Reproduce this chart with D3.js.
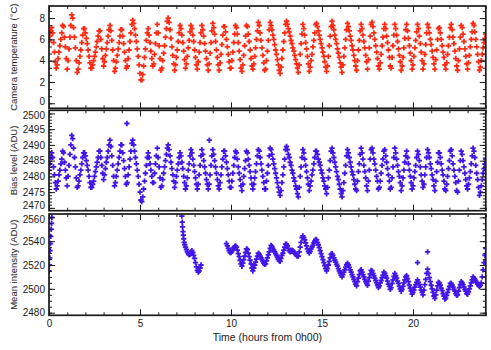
<!DOCTYPE html>
<html>
<head>
<meta charset="utf-8">
<script src="https://cdn.jsdelivr.net/npm/d3@7"></script>
<style>
  body { margin: 0; background: #fff; }
  svg { display: block; }
  text { font-family: "Liberation Sans", Arial, sans-serif; fill: #1a1a1a; }
</style>
</head>
<body>
<div id="chart"></div>
<script>
// Samples are every 3 minutes (0.05 h)
const sampleStep = 0.05;

// Camera temperature (deg C), one row per hour, from 0h00
const temperature = [
  5.8,6.3,6.8,7.1,6.6,5.7,4.8,3.9,3.3,3.6,4.2,4.8,5.4,6.0,6.6,7.3,7.2,6.2,5.3,4.2,
  3.2,4.0,5.1,6.2,7.3,8.3,8.0,7.1,6.2,5.2,4.0,2.9,3.2,3.8,4.4,5.0,5.7,6.4,7.0,7.0,
  6.6,6.1,5.6,5.0,4.4,3.8,3.3,3.3,3.6,4.0,4.4,4.8,5.3,5.8,6.3,6.8,6.8,6.0,5.1,4.2,
  3.5,3.9,4.5,5.1,5.7,6.3,6.9,7.3,6.8,5.9,5.0,4.0,3.0,3.3,3.9,4.5,5.1,5.7,6.3,6.9,
  6.9,6.3,5.6,4.8,4.0,3.3,3.5,4.2,5.0,5.8,6.6,7.4,7.8,7.5,7.0,6.4,5.8,5.1,4.4,3.6,
  2.8,2.2,2.2,2.7,3.5,4.3,5.1,5.9,6.6,7.0,6.4,5.7,4.9,4.2,3.5,3.7,4.6,5.6,6.6,7.4,
  6.6,5.4,4.2,3.1,3.3,4.0,4.7,5.4,6.2,7.0,7.7,8.0,7.6,6.9,6.1,5.3,4.5,3.7,3.1,3.6,
  4.3,5.0,5.8,6.6,7.3,7.0,6.4,5.7,4.9,4.1,3.3,3.7,4.4,5.2,5.9,6.7,7.3,7.0,6.4,5.8,
  5.0,4.3,3.6,3.2,3.9,4.8,5.7,6.6,7.3,6.9,6.3,5.6,4.9,4.2,3.6,3.1,3.7,4.7,5.7,6.8,
  7.5,7.1,6.5,5.8,5.0,4.3,3.6,3.1,3.8,4.6,5.5,6.4,7.2,7.2,6.7,6.0,5.3,4.6,3.9,3.3,
  3.3,4.0,4.8,5.7,6.5,7.3,7.1,6.5,5.7,4.9,4.1,3.3,3.0,3.6,4.5,5.4,6.3,7.3,7.2,6.5,
  5.8,5.0,4.2,3.5,3.2,3.7,4.4,5.2,6.0,6.8,7.6,7.3,6.6,5.9,5.2,4.5,3.8,3.1,3.2,4.0,
  4.9,5.9,6.9,7.6,7.3,6.9,6.4,6.0,5.5,5.0,4.6,4.1,3.6,3.1,2.8,3.4,4.2,5.0,5.8,6.6,
  7.4,7.7,7.4,7.0,6.7,6.3,5.9,5.6,5.2,4.9,4.5,4.1,3.7,3.3,2.9,3.6,4.6,5.6,6.5,7.4,
  7.0,6.4,5.7,5.1,4.4,3.7,3.0,3.4,4.0,4.6,5.3,5.9,6.6,7.4,7.5,7.2,6.8,6.4,6.0,5.6,
  5.2,4.8,4.4,3.9,3.4,3.0,3.5,4.4,5.4,6.3,7.2,7.7,7.3,6.9,6.4,6.0,5.6,5.1,4.7,4.3,
  3.8,3.4,2.9,3.6,4.4,5.2,6.0,6.9,7.5,7.2,6.8,6.3,5.9,5.4,5.0,4.5,4.0,3.5,3.1,4.0,
  5.0,5.9,6.8,7.4,7.0,6.4,5.8,5.2,4.5,3.9,3.2,4.1,5.2,6.3,7.4,7.6,7.2,6.6,6.0,5.4,
  4.8,4.2,3.5,3.2,3.8,4.6,5.4,6.2,7.0,7.4,7.0,6.3,5.7,5.0,4.3,3.5,3.3,4.3,5.4,6.4,
  7.4,7.0,6.4,5.8,5.1,4.5,3.9,3.1,3.5,4.3,5.2,6.1,6.9,7.4,6.8,6.1,5.4,4.7,4.0,3.2,
  3.6,4.4,5.2,5.9,6.7,7.4,7.0,6.3,5.6,4.8,4.0,3.2,3.7,4.6,5.5,6.6,7.4,7.1,6.6,6.0,
  5.5,4.9,4.3,3.7,3.2,4.1,5.0,6.0,7.0,7.1,6.6,6.0,5.4,4.8,4.3,3.6,3.2,3.8,4.6,5.4,
  6.2,7.1,7.4,6.9,6.2,5.6,4.9,4.2,3.5,3.1,4.0,5.1,6.2,7.3,7.1,6.5,5.8,5.1,4.4,3.7,
  3.2,3.8,4.5,5.3,6.0,6.7,7.5,7.3,6.7,6.0,5.3,4.6,3.9,3.1,3.4,4.0,4.6,5.2,5.7,6.1,
  6.5
];

// Bias level (ADU), same sampling
const biasLevel = [
  2482,2484,2486,2487.5,2486,2483,2480.5,2478,2476,2477,2478.5,2480.5,2482,2484,2485.5,2488,2487.5,2484.5,2482,2479.5,
  2477,2480,2483.5,2487,2490,2493,2492,2489,2486,2483,2479.5,2476.5,2477,2478.5,2480.5,2482,2484,2486,2487.5,2487.5,
  2486.5,2485,2483.5,2482,2480,2478,2476.5,2476.5,2477.5,2478.5,2480,2481.5,2483,2484.5,2486,2488,2488,2486,2483.5,2481,
  2479,2480.5,2482.5,2484.5,2486,2488,2490,2491.5,2489.5,2486.5,2483.5,2480,2477,2478,2480,2482,2484,2486,2488,2490,
  2490,2487.5,2485,2482.5,2480,2477.5,2478,2480.5,2483,2485.5,2488,2490.5,2491.5,2490,2488,2486,2484,2482,2480,2477.5,
  2475,2472.5,2472,2473.5,2476,2478.5,2481,2483.5,2486,2487.5,2486,2484,2482,2480,2478,2478,2481,2484,2486.5,2489,
  2486,2483,2479.5,2476.5,2477,2479,2481,2483,2485,2487,2489,2490,2488.5,2486.5,2484.5,2482.5,2480.5,2478.5,2476.5,2478,
  2480,2482,2484,2486,2487.5,2486.5,2484.5,2482.5,2480,2478,2476,2477,2479.5,2482,2484,2486.5,2488.5,2487.5,2485.5,2483.5,
  2481.5,2479.5,2477.5,2476,2477.5,2480.5,2483.5,2486.5,2488.5,2487,2485,2483,2481,2479,2477.5,2476,2477.5,2480.5,2483.5,2486.5,
  2488.5,2487,2485,2483,2481,2479,2477,2476,2478,2480.5,2483,2485.5,2488,2488,2486.5,2484.5,2482.5,2480.5,2478.5,2476.5,
  2476.5,2478.5,2481,2483.5,2486,2488,2487.5,2485.5,2483,2481,2479,2477,2475.5,2477.5,2480,2482.5,2485,2488,2487.5,2485.5,
  2483.5,2481.5,2479.5,2477.5,2476,2477.5,2479.5,2481.5,2484,2486.5,2488.5,2488,2486,2484,2482,2480,2478,2476,2476,2478.5,
  2481,2483.5,2486.5,2489,2488.5,2487,2485.5,2484,2482.5,2481,2479.5,2478,2476.5,2475,2474,2475.5,2478,2480.5,2483,2485.5,
  2488.5,2489.5,2488.5,2487,2486,2484.5,2483.5,2482,2481,2479.5,2478.5,2477,2476,2474.5,2473.5,2476.5,2480,2483,2486,2488.5,
  2487.5,2485.5,2483.5,2481.5,2479.5,2477.5,2475.5,2477,2478.5,2480.5,2482,2484,2486,2488,2488,2487,2485.5,2484.5,2483.5,2482,
  2481,2479.5,2478.5,2477,2476,2474.5,2476.5,2479.5,2482,2485,2488,2489,2487.5,2486,2484.5,2483,2481.5,2480,2479,2477.5,
  2476,2474.5,2473.5,2475.5,2478,2481,2483.5,2486.5,2488.5,2487.5,2486,2484.5,2483,2481.5,2480.5,2479,2477.5,2476,2475.5,2478.5,
  2481.5,2484,2487,2489,2487.5,2485.5,2483.5,2481.5,2479.5,2477,2475.5,2478.5,2482,2485.5,2488.5,2489,2487.5,2485.5,2484,2482,
  2480,2478.5,2476,2476.5,2478.5,2481,2483.5,2485.5,2488,2488.5,2486.5,2484.5,2482.5,2480.5,2478.5,2476,2476.5,2479.5,2483,2486,
  2489,2487.5,2485.5,2483.5,2481.5,2480,2478,2475.5,2477,2479.5,2482,2484.5,2486.5,2488,2486,2484,2482,2480,2478,2476,
  2477,2479.5,2481.5,2483.5,2486,2488,2487,2485,2483,2480.5,2478.5,2476.5,2477.5,2480.5,2483,2486,2488.5,2487.5,2486,2484,
  2482.5,2480.5,2479,2477,2475.5,2478.5,2481.5,2484.5,2487.5,2487.5,2486,2484,2482,2480.5,2478.5,2476,2475.5,2477.5,2480,2482.5,
  2485,2488,2488.5,2486.5,2484,2482,2480,2478,2475.5,2475,2478.5,2482,2485,2488,2487,2485,2483,2481,2479,2477,
  2476,2477.5,2479.5,2481.5,2484,2486.5,2489,2488,2486,2483.5,2481,2479,2476.5,2474,2475,2477,2479,2481,2482.5,2484,
  2485.5
];
// isolated bias readings [hour, ADU]
const biasOutliers = [[4.28, 2496.8], [8.81, 2491.5]];

// Mean intensity (ADU): short pieces [hour, ADU] and a long run sampled every 0.05 h
const intensityMidnight = [
  [0.00,2515],[0.02,2520],[0.04,2526],[0.06,2532],[0.08,2538],[0.10,2544],[0.12,2550],[0.14,2555],[0.16,2560],[0.18,2565]
];
const intensityMorning = [
  [7.30,2561],[7.32,2556],[7.34,2552],[7.36,2548],[7.38,2545],[7.40,2542],[7.43,2539],[7.46,2537],[7.50,2535],
  [7.55,2533],[7.60,2531],[7.65,2529.5],[7.70,2528.5],[7.75,2529],[7.80,2531],[7.85,2532],[7.90,2530.5],[7.95,2528],
  [8.00,2525.5],[8.05,2522],[8.10,2518.5],[8.15,2515.5],[8.20,2514],[8.25,2515],[8.30,2517.5],[8.35,2520]
];
const intensityRunStart = 9.75;
const intensityRun = [
  2538,2536,2534,2532,2530.5,
  2530.5,2531.5,2533,2534.5,2535.5,2536,2535,2532.5,2529.5,2527,2524,2521,2519,2521.5,2524.5,2527.5,2530.5,2533.5,2533,2530,
  2527,2524,2521,2517.5,2515,2517.5,2520,2522.5,2525,2527.5,2530,2529,2527.5,2526,2524.5,2523,2521.5,2520.5,2521,2523.5,
  2526,2528.5,2531,2534,2536.5,2535.5,2534,2532.5,2531,2529.5,2528,2526.5,2525,2523.5,2523,2525.5,2528,2530,2532.5,2535,
  2537.5,2537.5,2536,2534,2532,2531,2531.5,2532.5,2532,2531,2530,2529,2528,2527.5,2527.5,2531,2535,2539,2543,2544.5,
  2543,2541,2538.5,2536,2533.5,2531.5,2530,2531.5,2533.5,2535,2536.5,2538.5,2540,2541.5,2541,2539,2537,2534.5,2532,2529.5,
  2527,2524.5,2522,2519.5,2517,2515,2517,2520,2523,2526,2529,2529.5,2528,2526,2524,2522.5,2520.5,2519,2517,2515,
  2513.5,2511.5,2510,2512,2514,2516,2518,2520,2521.5,2520,2518,2516,2514,2512,2510,2508,2506,2504,2502.5,2506,
  2509,2512,2515,2516,2514,2512,2510,2508,2506,2504.5,2503,2506.5,2509.5,2512.5,2515.5,2515,2513,2511,2509,2507,
  2505,2503,2501,2502.5,2505,2507,2509.5,2511.5,2514,2513,2511,2509,2506.5,2504,2502,2499.5,2501,2504.5,2507.5,2510.5,
  2513,2511,2509,2506.5,2504.5,2502,2500,2498,2499.5,2502,2505,2507.5,2510,2511,2508.5,2506,2503,2500.5,2498,2495.5,
  2497,2499,2501.5,2503.5,2505.5,2507.5,2505.5,2503.5,2501.5,2499,2497,2495,2499,2503.5,2508,2513,2516.5,2513,2509.5,2506,
  2503,2500,2497,2494,2492,2495,2499,2502.5,2505.5,2505,2503,2500.5,2498.5,2496,2494,2491.5,2492,2494.5,2497,2499.5,
  2502,2504.5,2504.5,2503,2501.5,2499.5,2498,2496,2494.5,2495,2498,2501,2503.5,2506,2505,2503.5,2501.5,2499.5,2498,2496,
  2495.5,2497.5,2500,2502.5,2505,2507.5,2510,2509,2508,2506.5,2505.5,2504,2503,2502,2503,2505,2510,2516,2522,2528,
  2534
];
const intensityOutliers = [[20.25, 2522], [20.80, 2531]];

const xMajor = [0, 5, 10, 15, 20];

// ---------------------------------------------------------------
const width = 491, height = 350;
const left = 49, right = 485.8;
const red = "#ff2a14", blue = "#4216e8";

const x = d3.scaleLinear().domain([0, 24]).range([left, right]);

// labelShift nudges tick labels that sit on a shared frame edge
const panels = [
  {
    title: "Camera temperature (\u00B0C)",
    top: 6, bottom: 108.3, domain: [-0.47, 9.13],
    major: [0, 2, 4, 6, 8], minor: d3.range(0, 9.13, 2 / 3),
    labelShift: { 0: "0.1em" },
    color: red,
    points: temperature.map((v, i) => [i * sampleStep, v])
  },
  {
    title: "Bias level (ADU)",
    top: 110.3, bottom: 210.7, domain: [2469.1, 2501],
    major: [2470, 2475, 2480, 2485, 2490, 2495, 2500], minor: d3.range(2470, 2501, 1),
    labelShift: { 2500: "0.55em", 2470: "0.1em" },
    color: blue,
    points: biasLevel.map((v, i) => [i * sampleStep, v]).concat(biasOutliers)
  },
  {
    title: "Mean intensity (ADU)",
    top: 214, bottom: 315.3, domain: [2477.8, 2562.8],
    major: [2480, 2500, 2520, 2540, 2560], minor: d3.range(2480, 2562.8, 5),
    labelShift: { 2560: "0.55em" },
    color: blue,
    points: intensityMidnight
      .concat(intensityMorning)
      .concat(intensityRun.map((v, i) => [intensityRunStart + i * sampleStep, v]))
      .concat(intensityOutliers)
  }
];

const svg = d3.select("#chart").append("svg")
  .attr("width", width)
  .attr("height", height);

const cross = d3.symbol(d3.symbolCross, 16)();

panels.forEach((p, k) => {
  const y = d3.scaleLinear().domain(p.domain).range([p.bottom, p.top]);
  const g = svg.append("g");

  // clip marks to the frame
  const clipId = "clip" + k;
  svg.append("clipPath").attr("id", clipId)
    .append("rect")
    .attr("x", left).attr("y", p.top)
    .attr("width", right - left).attr("height", p.bottom - p.top);

  g.append("g")
    .attr("clip-path", `url(#${clipId})`)
    .selectAll("path")
    .data(p.points)
    .join("path")
    .attr("d", cross)
    .attr("fill", p.color)
    .attr("transform", d => `translate(${x(d[0])},${y(d[1])})`);

  // ticks on all four sides, pointing inward
  const xMinor = d3.range(0, 25, 1);
  const addAxis = (axis, tx, ty) => {
    const a = g.append("g").attr("transform", `translate(${tx},${ty})`).call(axis);
    a.select(".domain").remove();
    a.selectAll("line").attr("stroke", "#1a1a1a").attr("stroke-width", 1);
    return a;
  };

  addAxis(d3.axisBottom(x).tickValues(xMinor).tickSize(-3).tickFormat(""), 0, p.bottom);
  addAxis(d3.axisTop(x).tickValues(xMinor).tickSize(-3).tickFormat(""), 0, p.top);
  addAxis(d3.axisTop(x).tickValues(xMajor).tickSize(-6).tickFormat(""), 0, p.top);
  const bottomMajor = addAxis(
    d3.axisBottom(x).tickValues(xMajor).tickSize(-6).tickPadding(5)
      .tickFormat(k === panels.length - 1 ? d3.format("d") : ""),
    0, p.bottom);
  bottomMajor.selectAll("text").attr("font-size", 10).attr("fill", "#1a1a1a");

  addAxis(d3.axisLeft(y).tickValues(p.minor).tickSize(-3).tickFormat(""), left, 0);
  addAxis(d3.axisRight(y).tickValues(p.minor).tickSize(-3).tickFormat(""), right, 0);
  addAxis(d3.axisRight(y).tickValues(p.major).tickSize(-6).tickFormat(""), right, 0);
  const leftMajor = addAxis(
    d3.axisLeft(y).tickValues(p.major).tickSize(-6).tickPadding(4).tickFormat(d3.format("d")),
    left, 0);
  leftMajor.selectAll("text")
    .attr("font-size", 10)
    .attr("fill", "#1a1a1a")
    .attr("dy", d => p.labelShift[d] || "0.32em");

  // frame
  g.append("rect")
    .attr("x", left).attr("y", p.top)
    .attr("width", right - left).attr("height", p.bottom - p.top)
    .attr("fill", "none")
    .attr("stroke", "#1a1a1a")
    .attr("stroke-width", 1.7);

  // axis title
  g.append("text")
    .attr("transform", `translate(17,${(p.top + p.bottom) / 2}) rotate(-90)`)
    .attr("text-anchor", "middle")
    .attr("font-size", 9.5)
    .text(p.title);
});

svg.append("text")
  .attr("x", (left + right) / 2)
  .attr("y", 341)
  .attr("text-anchor", "middle")
  .attr("font-size", 10.5)
  .text("Time (hours from 0h00)");
</script>
</body>
</html>
